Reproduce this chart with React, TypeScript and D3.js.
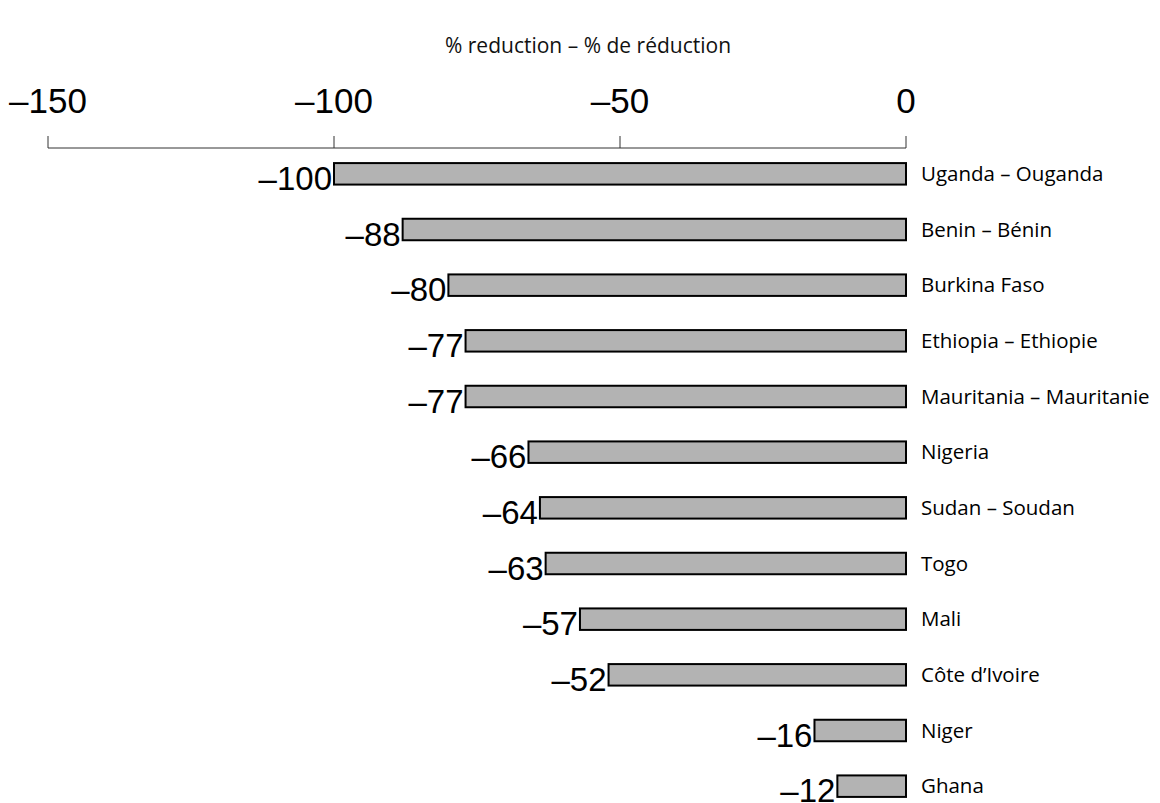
import React, { useEffect, useRef } from 'react';
import * as d3 from 'd3';

// country labels, top to bottom
const countries: string[] = [
  'Uganda – Ouganda',
  'Benin – Bénin',
  'Burkina Faso',
  'Ethiopia – Ethiopie',
  'Mauritania – Mauritanie',
  'Nigeria',
  'Sudan – Soudan',
  'Togo',
  'Mali',
  'Côte d’Ivoire',
  'Niger',
  'Ghana',
];

// % reduction
const reductions: number[] = [-100, -88, -80, -77, -77, -66, -64, -63, -57, -52, -16, -12];

const tickValues: number[] = [-150, -100, -50, 0];

const axisTitle = '% reduction – % de réduction';

const fmt = (v: number) => (v < 0 ? '–' + Math.abs(v) : String(v));

const App: React.FC = () => {
  const ref = useRef<SVGSVGElement>(null);

  useEffect(() => {
    if (!ref.current) return;
    const width = 1160;
    const height = 803;

    const svg = d3.select(ref.current)
      .attr('width', width)
      .attr('height', height);
    svg.selectAll('*').remove();

    const x = d3.scaleLinear().domain([-150, 0]).range([48, 906]);
    const y = d3.scaleBand<string>()
      .domain(countries)
      .range([146, 814])
      .paddingInner(0.614)
      .paddingOuter(0.307);

    const axisY = 148;

    // title
    svg.append('text')
      .attr('x', 588)
      .attr('y', 53)
      .attr('text-anchor', 'middle')
      .style('font-family', '"Open Sans", sans-serif')
      .style('font-size', '21px')
      .attr('fill', '#111')
      .text(axisTitle);

    // top axis
    const axis = svg.append('g');
    axis.append('line')
      .attr('x1', x(-150))
      .attr('x2', x(0))
      .attr('y1', axisY)
      .attr('y2', axisY)
      .attr('stroke', '#333')
      .attr('stroke-width', 1);

    axis.selectAll('.tick')
      .data(tickValues)
      .enter().append('line')
      .attr('x1', d => x(d))
      .attr('x2', d => x(d))
      .attr('y1', axisY - 12)
      .attr('y2', axisY)
      .attr('stroke', '#333')
      .attr('stroke-width', 1);

    axis.selectAll('.tickLabel')
      .data(tickValues)
      .enter().append('text')
      .attr('x', d => x(d))
      .attr('y', 113)
      .attr('text-anchor', 'middle')
      .style('font-family', '"Liberation Sans", Arial, sans-serif')
      .style('font-size', '35px')
      .attr('fill', '#000')
      .text(d => fmt(d));

    const rows = svg.selectAll('.row')
      .data(countries.map((c, i) => ({ name: c, value: reductions[i] })))
      .enter().append('g');

    rows.append('rect')
      .attr('x', d => x(d.value))
      .attr('y', d => y(d.name)!)
      .attr('width', d => x(0) - x(d.value))
      .attr('height', y.bandwidth())
      .attr('fill', '#b3b3b3')
      .attr('stroke', '#000')
      .attr('stroke-width', 2);

    rows.append('text')
      .attr('x', d => x(d.value) - 2)
      .attr('y', d => y(d.name)! + y.bandwidth() / 2 + 16)
      .attr('text-anchor', 'end')
      .style('font-family', '"Liberation Sans", Arial, sans-serif')
      .style('font-size', '33px')
      .attr('fill', '#000')
      .text(d => fmt(d.value));

    rows.append('text')
      .attr('x', x(0) + 15)
      .attr('y', d => y(d.name)! + y.bandwidth() / 2 + 7)
      .style('font-family', '"Open Sans", sans-serif')
      .style('font-size', '20.5px')
      .attr('fill', '#000')
      .text(d => d.name);
  }, []);

  return (
    <svg ref={ref} style={{ position: 'absolute', left: 0, top: 0 }}></svg>
  );
};

export default App;
